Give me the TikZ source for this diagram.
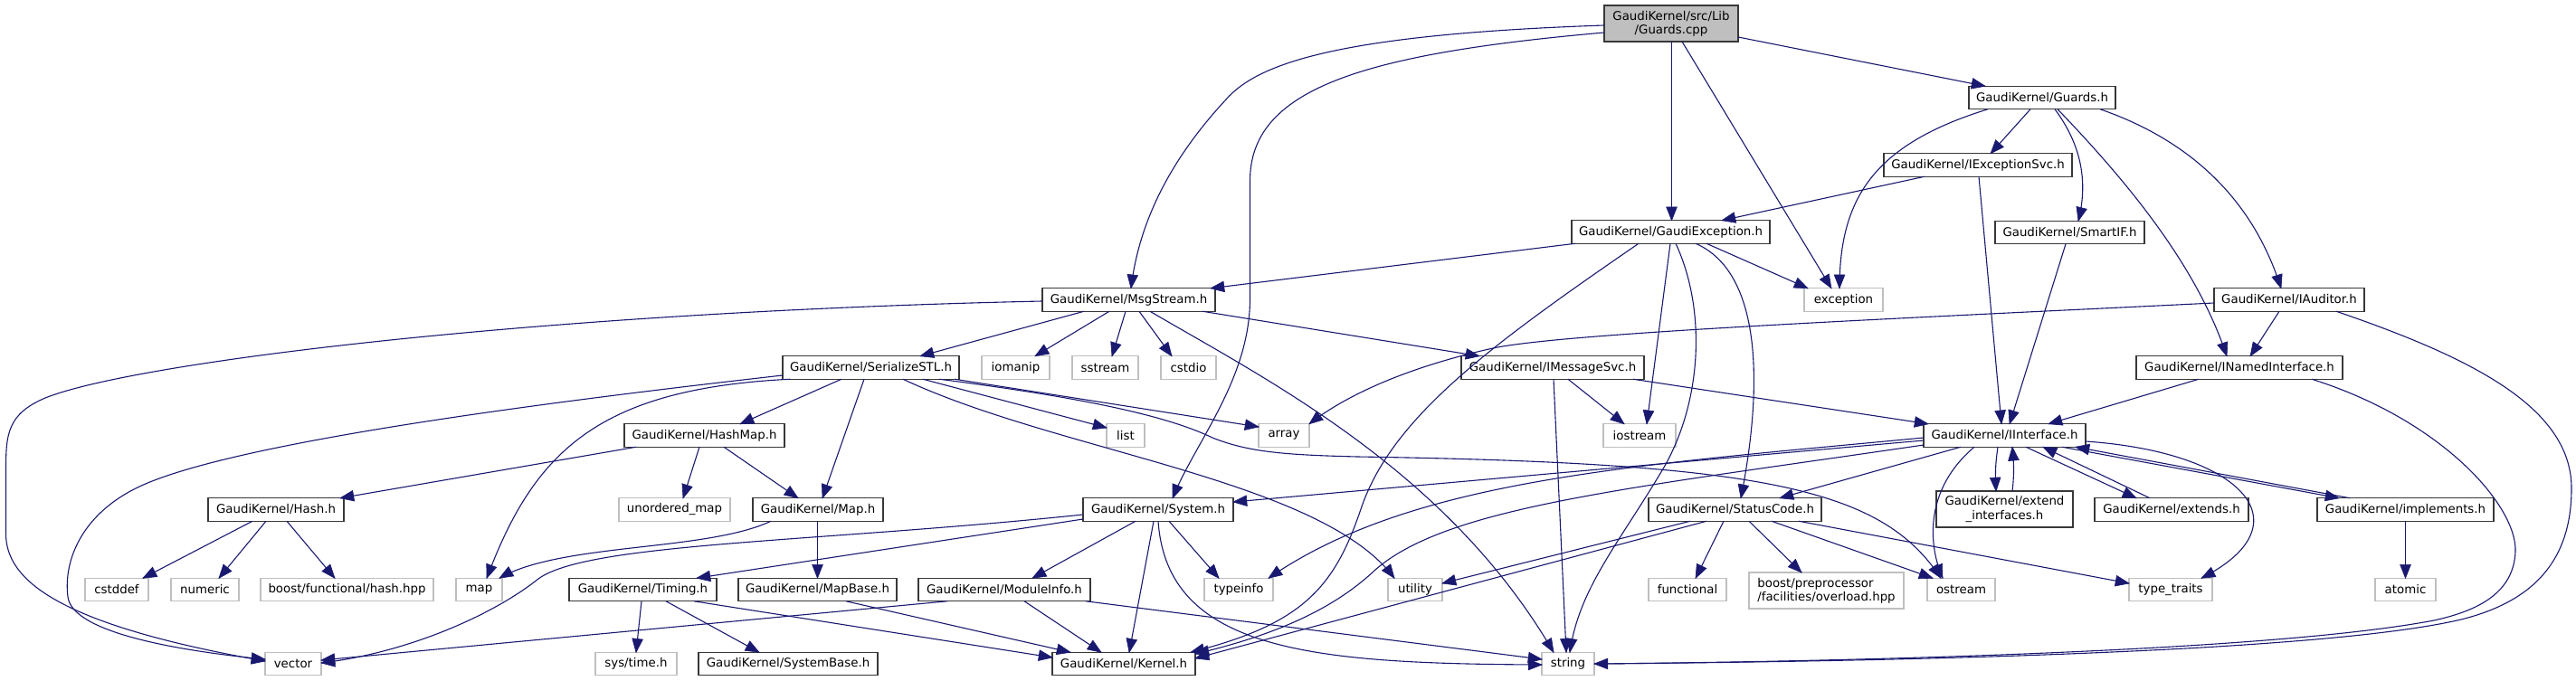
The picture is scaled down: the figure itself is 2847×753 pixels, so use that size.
\documentclass[tikz,border=0pt]{standalone}
\usepackage{fontspec}
\setmainfont{DejaVu Sans}
\usetikzlibrary{calc}
\definecolor{edgec}{HTML}{191970}
\definecolor{bordc}{HTML}{383838}
\definecolor{sysc}{HTML}{BFBFBF}
\newcommand\ahead[2]{\filldraw[edgec, line width=0.3pt, line join=miter] (#1) -- ($(#1)!8pt!21.5:(#2)$) -- ($(#1)!8pt!-21.5:(#2)$) -- cycle;}
\begin{document}
\begin{tikzpicture}[x=0.5pt,y=-0.5pt,
  every node/.style={font=\fontsize{6.67pt}{7.6pt}\selectfont, inner xsep=1pt, inner ysep=0pt, outer sep=0pt, minimum height=12.75pt, line width=0.6pt},
  hdr/.style={draw=bordc, fill=white, minimum width=#1},
  sys/.style={draw=sysc, fill=white, minimum width=#1},
  conn/.style={draw=edgec, line width=0.55pt}]
\useasboundingbox (0,0) rectangle (2847,753);
% nodes
\node[hdr=74pt, fill=sysc, minimum height=20pt, align=center] (root) at (1847,26) {GaudiKernel/src/Lib\\/Guards.cpp};
\node[hdr=81pt] (guardsh) at (2257,108) {GaudiKernel/Guards.h};
\node[hdr=104pt] (iexcsvc) at (2186,182.5) {GaudiKernel/IExceptionSvc.h};
\node[hdr=109.5pt] (gaudiexc) at (1846.5,256.5) {GaudiKernel/GaudiException.h};
\node[hdr=82.5pt] (smartif) at (2287.5,257) {GaudiKernel/SmartIF.h};
\node[sys=43.5pt] (exception) at (2037.5,331.5) {exception};
\node[hdr=83pt] (iauditor) at (2530,331.5) {GaudiKernel/IAuditor.h};
\node[hdr=95.5pt] (msgstream) at (1247.5,331.5) {GaudiKernel/MsgStream.h};
\node[hdr=97.5pt] (serialize) at (962.5,406.5) {GaudiKernel/SerializeSTL.h};
\node[sys=37.5pt] (iomanip) at (1122.5,406.5) {iomanip};
\node[sys=36.5pt] (sstream) at (1221.5,406.5) {sstream};
\node[sys=30.5pt] (cstdio) at (1313.5,406.5) {cstdio};
\node[hdr=101pt] (imsgsvc) at (1716,406.5) {GaudiKernel/IMessageSvc.h};
\node[hdr=114pt] (inamed) at (2475,406.5) {GaudiKernel/INamedInterface.h};
\node[hdr=88.5pt] (hashmap) at (778.5,481.5) {GaudiKernel/HashMap.h};
\node[sys=21pt] (listh) at (1244,481.5) {list};
\node[sys=28pt] (array) at (1419,481.5) {array};
\node[sys=40pt] (iostream) at (1812,481.5) {iostream};
\node[hdr=89.5pt] (iinterface) at (2215.5,481.5) {GaudiKernel/IInterface.h};
\node[hdr=75pt] (hash) at (305,563.5) {GaudiKernel/Hash.h};
\node[sys=61.5pt] (unordered) at (745.5,563.5) {unordered\_map};
\node[hdr=72pt] (maph) at (904,563.5) {GaudiKernel/Map.h};
\node[hdr=83pt] (system) at (1280,563.5) {GaudiKernel/System.h};
\node[hdr=95.5pt] (statuscode) at (1917.5,563.5) {GaudiKernel/StatusCode.h};
\node[hdr=75.5pt, minimum height=20pt, align=center] (extendif) at (2215.5,563) {GaudiKernel/extend\\\_interfaces.h};
\node[hdr=85pt] (extends) at (2400,563.5) {GaudiKernel/extends.h};
\node[hdr=97.5pt] (implements) at (2658.5,563.5) {GaudiKernel/implements.h};
\node[sys=35pt] (cstddef) at (129,652) {cstddef};
\node[sys=37.5pt] (numeric) at (226.5,652) {numeric};
\node[sys=95.5pt] (boosthash) at (383.5,652) {boost/functional/hash.hpp};
\node[sys=25.5pt] (maps) at (529.5,652) {map};
\node[hdr=81.5pt] (timing) at (710.5,652) {GaudiKernel/Timing.h};
\node[hdr=87.5pt] (mapbase) at (903.5,652) {GaudiKernel/MapBase.h};
\node[hdr=95pt] (moduleinfo) at (1110,652) {GaudiKernel/ModuleInfo.h};
\node[sys=38pt] (typeinfo) at (1369,652) {typeinfo};
\node[sys=30pt] (utility) at (1564,652) {utility};
\node[sys=43pt] (functional) at (1865,652) {functional};
\node[sys=85.5pt, minimum height=20pt, align=left] (boostpp) at (2018.5,653) {boost/preprocessor\\/facilities/overload.hpp};
\node[sys=37.5pt] (ostream) at (2167.5,652) {ostream};
\node[sys=46pt] (typetraits) at (2399,652) {type\_traits};
\node[sys=33.5pt] (atomic) at (2658.5,652) {atomic};
\node[sys=31pt] (vector) at (324,734) {vector};
\node[sys=45pt] (systime) at (703,734) {sys/time.h};
\node[hdr=99pt] (systembase) at (871,734) {GaudiKernel/SystemBase.h};
\node[hdr=79pt] (kernel) at (1242,734) {GaudiKernel/Kernel.h};
\node[sys=29pt] (string) at (1733,734) {string};
% edges from root
\draw[conn] (root.west |- 0,28) .. controls (1480,38) and (1390,70) .. (1355,110) .. controls (1290,180) and (1258,250) .. (msgstream.north -| 1250,0);
\ahead{msgstream.north -| 1250,0}{1258,250}
\draw[conn] (root.west |- 0,36) .. controls (1500,60) and (1381.5,100) .. (1381.5,200) -- (1381.5,330) .. controls (1381.5,420) and (1320,490) .. (system.north -| 1296,0);
\ahead{system.north -| 1296,0}{1320,490}
\draw[conn] (root.south -| 1847.5,0) -- (gaudiexc.north -| 1847.5,0);
\ahead{gaudiexc.north -| 1847.5,0}{root.south -| 1847.5,0}
\draw[conn] (root.south -| 1859,0) -- (exception.north -| 2024,0);
\ahead{exception.north -| 2024,0}{root.south -| 1859,0}
\draw[conn] (root.east |- 0,41) -- (guardsh.north -| 2194,0);
\ahead{guardsh.north -| 2194,0}{root.east |- 0,41}
% Guards.h
\draw[conn] (guardsh.south -| 2244,0) -- (iexcsvc.north -| 2200,0);
\ahead{iexcsvc.north -| 2200,0}{guardsh.south -| 2244,0}
\draw[conn] (guardsh.south -| 2197,0) .. controls (2070,160) and (2033,220) .. (exception.north -| 2033,0);
\ahead{exception.north -| 2033,0}{2033,220}
\draw[conn] (guardsh.south -| 2271,0) .. controls (2300,160) and (2308,200) .. (smartif.north -| 2297,0);
\ahead{smartif.north -| 2297,0}{2308,200}
\draw[conn] (guardsh.south -| 2274,0) .. controls (2360,210) and (2430,300) .. (inamed.north -| 2461,0);
\ahead{inamed.north -| 2461,0}{2430,300}
\draw[conn] (guardsh.south -| 2321,0) .. controls (2420,155) and (2490,220) .. (iauditor.north -| 2521,0);
\ahead{iauditor.north -| 2521,0}{2490,220}
% IExceptionSvc
\draw[conn] (iexcsvc.south -| 2127,0) -- (gaudiexc.north -| 1903,0);
\ahead{gaudiexc.north -| 1903,0}{iexcsvc.south -| 2127,0}
\draw[conn] (iexcsvc.south -| 2187,0) -- (iinterface.north -| 2212,0);
\ahead{iinterface.north -| 2212,0}{iexcsvc.south -| 2187,0}
% GaudiException
\draw[conn] (gaudiexc.south -| 1741,0) -- (msgstream.north -| 1338,0);
\ahead{msgstream.north -| 1338,0}{gaudiexc.south -| 1741,0}
\draw[conn] (gaudiexc.south -| 1886,0) -- (exception.north -| 1998,0);
\ahead{exception.north -| 1998,0}{gaudiexc.south -| 1886,0}
\draw[conn] (gaudiexc.south -| 1811,0) .. controls (1650,380) and (1540,460) .. (1505,560) .. controls (1475,650) and (1440,690) .. (kernel.north -| 1316,0);
\ahead{kernel.north -| 1316,0}{1440,690}
\draw[conn] (gaudiexc.south -| 1846,0) -- (iostream.north -| 1820,0);
\ahead{iostream.north -| 1820,0}{gaudiexc.south -| 1846,0}
\draw[conn] (gaudiexc.south -| 1852,0) .. controls (1885,340) and (1882,440) .. (1840,515) .. controls (1790,600) and (1745,650) .. (string.north -| 1735,0);
\ahead{string.north -| 1735,0}{1745,650}
\draw[conn] (gaudiexc.south -| 1874,0) .. controls (1945,300) and (1950,420) .. (statuscode.north -| 1924,0);
\ahead{statuscode.north -| 1924,0}{1950,420}
% SmartIF
\draw[conn] (smartif.south -| 2283,0) -- (iinterface.north -| 2221,0);
\ahead{iinterface.north -| 2221,0}{smartif.south -| 2283,0}
% IAuditor
\draw[conn] (iauditor.west |- 0,335) .. controls (2100,352) and (1730,368) .. (1650,385) .. controls (1560,405) and (1490,435) .. (array.north east);
\ahead{array.north east}{1490,435}
\draw[conn] (iauditor.south -| 2519,0) -- (inamed.north -| 2487,0);
\ahead{inamed.north -| 2487,0}{iauditor.south -| 2519,0}
\draw[conn] (iauditor.south -| 2582,0) .. controls (2730,395) and (2842,450) .. (2842,540) .. controls (2842,620) and (2800,665) .. (2720,685) .. controls (2550,725) and (2000,732) .. (string.east |- 0,734);
% INamedInterface
\draw[conn] (inamed.south -| 2430,0) -- (iinterface.north -| 2264,0);
\ahead{iinterface.north -| 2264,0}{inamed.south -| 2430,0}
\draw[conn] (inamed.south -| 2555,0) .. controls (2700,465) and (2782,560) .. (2780,610) .. controls (2778,655) and (2740,675) .. (2690,686) .. controls (2500,722) and (2000,732) .. (string.east |- 0,734);
\ahead{string.east |- 0,734}{2000,733}
% MsgStream
\draw[conn] (msgstream.west |- 0,333) .. controls (600,345) and (150,400) .. (50,440) .. controls (8,458) and (6.5,480) .. (6.5,520) -- (6.5,590) .. controls (6.5,640) and (60,690) .. (vector.west |- 0,731);
\ahead{vector.west |- 0,731}{60,690}
\draw[conn] (msgstream.south -| 1198,0) -- (serialize.north -| 1017,0);
\ahead{serialize.north -| 1017,0}{msgstream.south -| 1198,0}
\draw[conn] (msgstream.south -| 1226,0) -- (iomanip.north -| 1144,0);
\ahead{iomanip.north -| 1144,0}{msgstream.south -| 1226,0}
\draw[conn] (msgstream.south -| 1244,0) -- (sstream.north -| 1229,0);
\ahead{sstream.north -| 1229,0}{msgstream.south -| 1244,0}
\draw[conn] (msgstream.south -| 1259,0) -- (cstdio.north -| 1295,0);
\ahead{cstdio.north -| 1295,0}{msgstream.south -| 1259,0}
\draw[conn] (msgstream.south -| 1271,0) .. controls (1400,420) and (1600,520) .. (string.north -| 1717,0);
\ahead{string.north -| 1717,0}{1600,520}
\draw[conn] (msgstream.south -| 1329,0) -- (imsgsvc.north -| 1635,0);
\ahead{imsgsvc.north -| 1635,0}{msgstream.south -| 1329,0}
% SerializeSTL
\draw[conn] (serialize.west |- 0,415) .. controls (600,445) and (250,490) .. (150,540) .. controls (90,570) and (70,620) .. (75,660) .. controls (80,700) and (200,720) .. (vector.west |- 0,729);
\ahead{vector.west |- 0,729}{200,720}
\draw[conn] (serialize.south -| 930,0) -- (hashmap.north -| 818,0);
\ahead{hashmap.north -| 818,0}{serialize.south -| 930,0}
\draw[conn] (serialize.south -| 873,0) .. controls (660,430) and (590,500) .. (maps.north -| 538,0);
\ahead{maps.north -| 538,0}{590,500}
\draw[conn] (serialize.south -| 955,0) -- (maph.north -| 909,0);
\ahead{maph.north -| 909,0}{serialize.south -| 955,0}
\draw[conn] (serialize.south -| 1020,0) -- (listh.west |- 0,473);
\ahead{listh.west |- 0,473}{serialize.south -| 1020,0}
\draw[conn] (serialize.south -| 1055,0) -- (array.west |- 0,472);
\ahead{array.west |- 0,472}{serialize.south -| 1055,0}
\draw[conn] (serialize.south -| 998,0) .. controls (1170,500) and (1460,530) .. (utility.north -| 1541,0);
\ahead{utility.north -| 1541,0}{1460,530}
\draw[conn] (serialize.south -| 1038,0) .. controls (1200,440) and (1290,460) .. (1340,484) .. controls (1380,500) and (1420,503) .. (1500,505) .. controls (1950,512) and (2080,540) .. (ostream.north -| 2145,0);
\ahead{ostream.north -| 2145,0}{2080,540}
% HashMap
\draw[conn] (hashmap.south -| 703,0) -- (hash.north -| 376,0);
\ahead{hash.north -| 376,0}{hashmap.south -| 703,0}
\draw[conn] (hashmap.south -| 773,0) -- (unordered.north -| 755,0);
\ahead{unordered.north -| 755,0}{hashmap.south -| 773,0}
\draw[conn] (hashmap.south -| 800,0) -- (maph.north -| 882,0);
\ahead{maph.north -| 882,0}{hashmap.south -| 800,0}
% Hash
\draw[conn] (hash.south -| 279,0) -- (cstddef.north -| 158,0);
\ahead{cstddef.north -| 158,0}{hash.south -| 279,0}
\draw[conn] (hash.south -| 294,0) -- (numeric.north -| 242,0);
\ahead{numeric.north -| 242,0}{hash.south -| 294,0}
\draw[conn] (hash.south -| 317,0) -- (boosthash.north -| 370,0);
\ahead{boosthash.north -| 370,0}{hash.south -| 317,0}
% Map, MapBase
\draw[conn] (maph.south -| 852,0) .. controls (780,610) and (620,600) .. (maps.north -| 552,0);
\ahead{maps.north -| 552,0}{620,600}
\draw[conn] (maph.south -| 903.5,0) -- (mapbase.north -| 903.5,0);
\ahead{mapbase.north -| 903.5,0}{maph.south -| 903.5,0}
\draw[conn] (mapbase.south -| 935,0) -- (kernel.north -| 1183,0);
\ahead{kernel.north -| 1183,0}{mapbase.south -| 935,0}
% Timing
\draw[conn] (timing.south -| 709,0) -- (systime.north -| 703,0);
\ahead{systime.north -| 703,0}{timing.south -| 709,0}
\draw[conn] (timing.south -| 736,0) -- (systembase.north -| 839,0);
\ahead{systembase.north -| 839,0}{timing.south -| 736,0}
\draw[conn] (timing.south -| 767,0) -- (kernel.west |- 0,727);
\ahead{kernel.west |- 0,727}{timing.south -| 767,0}
% System
\draw[conn] (system.west |- 0,569) .. controls (900,600) and (650,600) .. (595,640) .. controls (545,680) and (450,722) .. (vector.east |- 0,733);
\ahead{vector.east |- 0,733}{450,722}
\draw[conn] (system.west |- 0,574) -- (timing.north -| 770,0);
\ahead{timing.north -| 770,0}{system.west |- 0,574}
\draw[conn] (system.south -| 1255,0) -- (moduleinfo.north -| 1141,0);
\ahead{moduleinfo.north -| 1141,0}{system.south -| 1255,0}
\draw[conn] (system.south -| 1275,0) -- (kernel.north -| 1248,0);
\ahead{kernel.north -| 1248,0}{system.south -| 1275,0}
\draw[conn] (system.south -| 1292,0) -- (typeinfo.north -| 1347,0);
\ahead{typeinfo.north -| 1347,0}{system.south -| 1292,0}
\draw[conn] (system.south -| 1280,0) .. controls (1290,720) and (1450,734) .. (string.west |- 0,735);
\ahead{string.west |- 0,735}{1450,735}
% ModuleInfo
\draw[conn] (moduleinfo.south -| 1047,0) -- (vector.east |- 0,730);
\ahead{vector.east |- 0,730}{moduleinfo.south -| 1047,0}
\draw[conn] (moduleinfo.south -| 1132,0) -- (kernel.north -| 1217,0);
\ahead{kernel.north -| 1217,0}{moduleinfo.south -| 1132,0}
\draw[conn] (moduleinfo.south -| 1200,0) -- (string.west |- 0,729);
\ahead{string.west |- 0,729}{moduleinfo.south -| 1200,0}
% IMessageSvc
\draw[conn] (imsgsvc.south -| 1733,0) -- (iostream.north -| 1795,0);
\ahead{iostream.north -| 1795,0}{imsgsvc.south -| 1733,0}
\draw[conn] (imsgsvc.south -| 1717,0) -- (string.north -| 1731,0);
\ahead{string.north -| 1731,0}{imsgsvc.south -| 1717,0}
\draw[conn] (imsgsvc.south -| 1805,0) -- (iinterface.north -| 2131,0);
\ahead{iinterface.north -| 2131,0}{imsgsvc.south -| 1805,0}
% IInterface
\draw[conn] (iinterface.west |- 0,487) -- (system.east |- 0,555);
\ahead{system.east |- 0,555}{iinterface.west |- 0,487}
\draw[conn] (iinterface.south -| 2167,0) -- (statuscode.north -| 1967,0);
\ahead{statuscode.north -| 1967,0}{iinterface.south -| 2167,0}
\draw[conn] (iinterface.west |- 0,492) .. controls (1800,540) and (1600,560) .. (1520,630) .. controls (1480,668) and (1420,700) .. (kernel.east |- 0,723);
\ahead{kernel.east |- 0,723}{1420,700}
\draw[conn] (iinterface.west |- 0,484) .. controls (1800,515) and (1560,530) .. (typeinfo.north -| 1402,0);
\ahead{typeinfo.north -| 1402,0}{1560,530}
\draw[conn] (iinterface.south -| 2182,0) .. controls (2128,540) and (2130,600) .. (ostream.north -| 2147,0);
\ahead{ostream.north -| 2147,0}{2130,600}
\draw[conn] (iinterface.south -| 2208,0) .. controls (2205,515) and (2205,525) .. (extendif.north -| 2206,0);
\ahead{extendif.north -| 2206,0}{2205,525}
\draw[conn] (extendif.north -| 2224,0) .. controls (2226,525) and (2226,515) .. (iinterface.south -| 2224,0);
\ahead{iinterface.south -| 2224,0}{2226,515}
\draw[conn] (iinterface.south -| 2239,0) -- (extends.north -| 2361,0);
\ahead{extends.north -| 2361,0}{iinterface.south -| 2239,0}
\draw[conn] (extends.north -| 2376,0) -- (iinterface.south -| 2258,0);
\ahead{iinterface.south -| 2258,0}{extends.north -| 2376,0}
\draw[conn] (iinterface.south -| 2279,0) -- (implements.north -| 2585,0);
\ahead{implements.north -| 2585,0}{iinterface.south -| 2279,0}
\draw[conn] (implements.north -| 2597,0) -- (iinterface.south -| 2294,0);
\ahead{iinterface.south -| 2294,0}{implements.north -| 2597,0}
\draw[conn] (iinterface.east |- 0,488) .. controls (2480,500) and (2550,580) .. (typetraits.north -| 2433,0);
\ahead{typetraits.north -| 2433,0}{2550,580}
\draw[conn] (implements.south) -- (atomic.north);
\ahead{atomic.north}{implements.south}
% StatusCode
\draw[conn] (statuscode.south -| 1868,0) -- (utility.east |- 0,645);
\ahead{utility.east |- 0,645}{statuscode.south -| 1868,0}
\draw[conn] (statuscode.south -| 1886,0) -- (kernel.east |- 0,728);
\ahead{kernel.east |- 0,728}{statuscode.south -| 1886,0}
\draw[conn] (statuscode.south -| 1905,0) -- (functional.north -| 1874,0);
\ahead{functional.north -| 1874,0}{statuscode.south -| 1905,0}
\draw[conn] (statuscode.south -| 1933,0) -- (boostpp.north -| 1991,0);
\ahead{boostpp.north -| 1991,0}{statuscode.south -| 1933,0}
\draw[conn] (statuscode.south -| 1958,0) -- (ostream.north -| 2136,0);
\ahead{ostream.north -| 2136,0}{statuscode.south -| 1958,0}
\draw[conn] (statuscode.south -| 1988,0) -- (typetraits.west |- 0,645);
\ahead{typetraits.west |- 0,645}{statuscode.south -| 1988,0}
\end{tikzpicture}
\end{document}
